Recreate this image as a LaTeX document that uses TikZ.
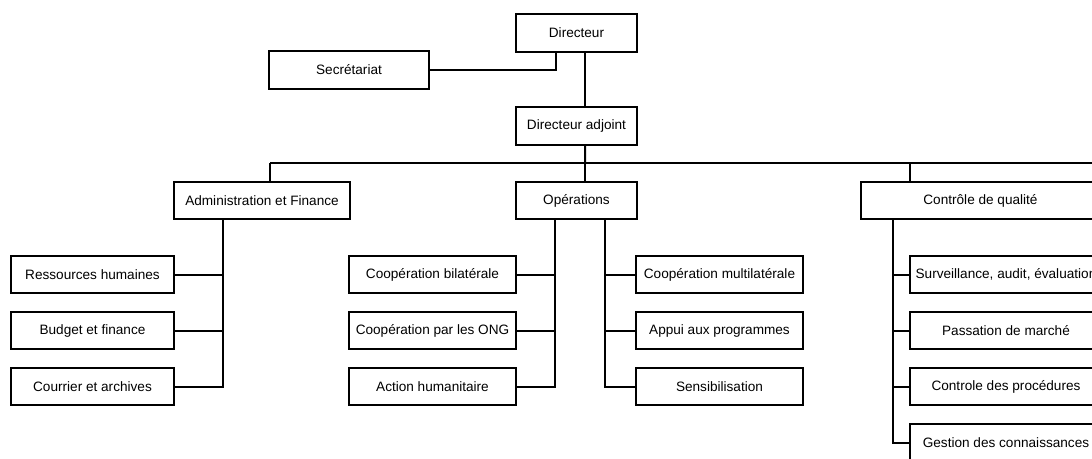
\documentclass[tikz,border=0pt]{standalone}
\usepackage{fontspec}
\setmainfont{Liberation Sans}
\usetikzlibrary{positioning}

\tikzset{
  orgbox/.style={
    draw=black, fill=white, line width=1.5pt,
    minimum height=28pt, inner sep=0pt,
    font=\fontsize{10.2}{12}\selectfont
  },
  orglink/.style={draw=black, line width=1.5pt},
  subgap/.style={below=12.5pt of #1}
}

\begin{document}
\begin{tikzpicture}[x=0.75pt, y=-0.75pt]
    \clip (0,0) rectangle (1092,458);

    % top levels
    \node[orgbox, minimum width=90.75pt] (dir) at (576.5,33) {Directeur};
    \node[orgbox, minimum width=120pt] (sec) at (349,70) {Secrétariat};
    \node[orgbox, minimum width=90.75pt] (adj) at (576.5,126) {Directeur adjoint};

    % departments
    \node[orgbox, minimum width=132pt] (af) at (262,200.5) {Administration et Finance};
    \node[orgbox, minimum width=90.75pt] (ops) at (576.5,200.5) {Opérations};
    \node[orgbox, minimum width=179.25pt] (qc) at (980.5,200.5) {Contrôle de qualité};

    % Administration et Finance
    \node[orgbox, minimum width=122.25pt] (rh) at (92.5,274.5) {Ressources humaines};
    \node[orgbox, minimum width=122.25pt, subgap=rh] (bf) {Budget et finance};
    \node[orgbox, minimum width=122.25pt, subgap=bf] (ca) {Courrier et archives};

    % Operations
    \node[orgbox, minimum width=125.25pt] (cb) at (432.5,274.5) {Coopération bilatérale};
    \node[orgbox, minimum width=125.25pt, subgap=cb] (cong) {Coopération par les ONG};
    \node[orgbox, minimum width=125.25pt, subgap=cong] (ah) {Action humanitaire};
    \node[orgbox, minimum width=125.25pt] (cm) at (719.5,274.5) {Coopération multilatérale};
    \node[orgbox, minimum width=125.25pt, subgap=cm] (ap) {Appui aux programmes};
    \node[orgbox, minimum width=125.25pt, subgap=ap] (sens) {Sensibilisation};

    % Controle de qualite
    \node[orgbox, minimum width=144pt] (sae) at (1006,274.5) {Surveillance, audit, évaluation};
    \node[orgbox, minimum width=144pt, subgap=sae] (pm) {Passation de marché};
    \node[orgbox, minimum width=144pt, subgap=pm] (cp) {Controle des procédures};
    \node[orgbox, minimum width=144pt, subgap=cp] (gc) {Gestion des connaissances};

    % links
    \draw[orglink] ([xshift=-15.4pt]dir.south) |- (sec.east);
    \draw[orglink] ([xshift=6.4pt]dir.south) -- ([xshift=6.4pt]adj.north);

    \coordinate (busL) at (270,163);
    \coordinate (busM) at (585,163);
    \coordinate (busR) at (910,163);
    \draw[orglink] ([xshift=6.4pt]adj.south) -- (busM);
    \draw[orglink] (busL) -- (1100,163);
    \draw[orglink] (busL) -- (busL |- af.north);
    \draw[orglink] (busM) -- (busM |- ops.north);
    \draw[orglink] (busR) -- (busR |- qc.north);

    \coordinate (afT) at (223,0);
    \coordinate (opL) at (555,0);
    \coordinate (opR) at (605,0);
    \coordinate (qcT) at (893,0);

    \draw[orglink] (afT |- af.south) |- (ca.east);
    \draw[orglink] (rh.east) -- (rh.east -| afT);
    \draw[orglink] (bf.east) -- (bf.east -| afT);

    \draw[orglink] (opL |- ops.south) |- (ah.east);
    \draw[orglink] (cb.east) -- (cb.east -| opL);
    \draw[orglink] (cong.east) -- (cong.east -| opL);
    \draw[orglink] (opR |- ops.south) |- (sens.west);
    \draw[orglink] (cm.west) -- (cm.west -| opR);
    \draw[orglink] (ap.west) -- (ap.west -| opR);

    \draw[orglink] (qcT |- qc.south) |- (gc.west);
    \draw[orglink] (sae.west) -- (sae.west -| qcT);
    \draw[orglink] (pm.west) -- (pm.west -| qcT);
    \draw[orglink] (cp.west) -- (cp.west -| qcT);
\end{tikzpicture}
\end{document}
